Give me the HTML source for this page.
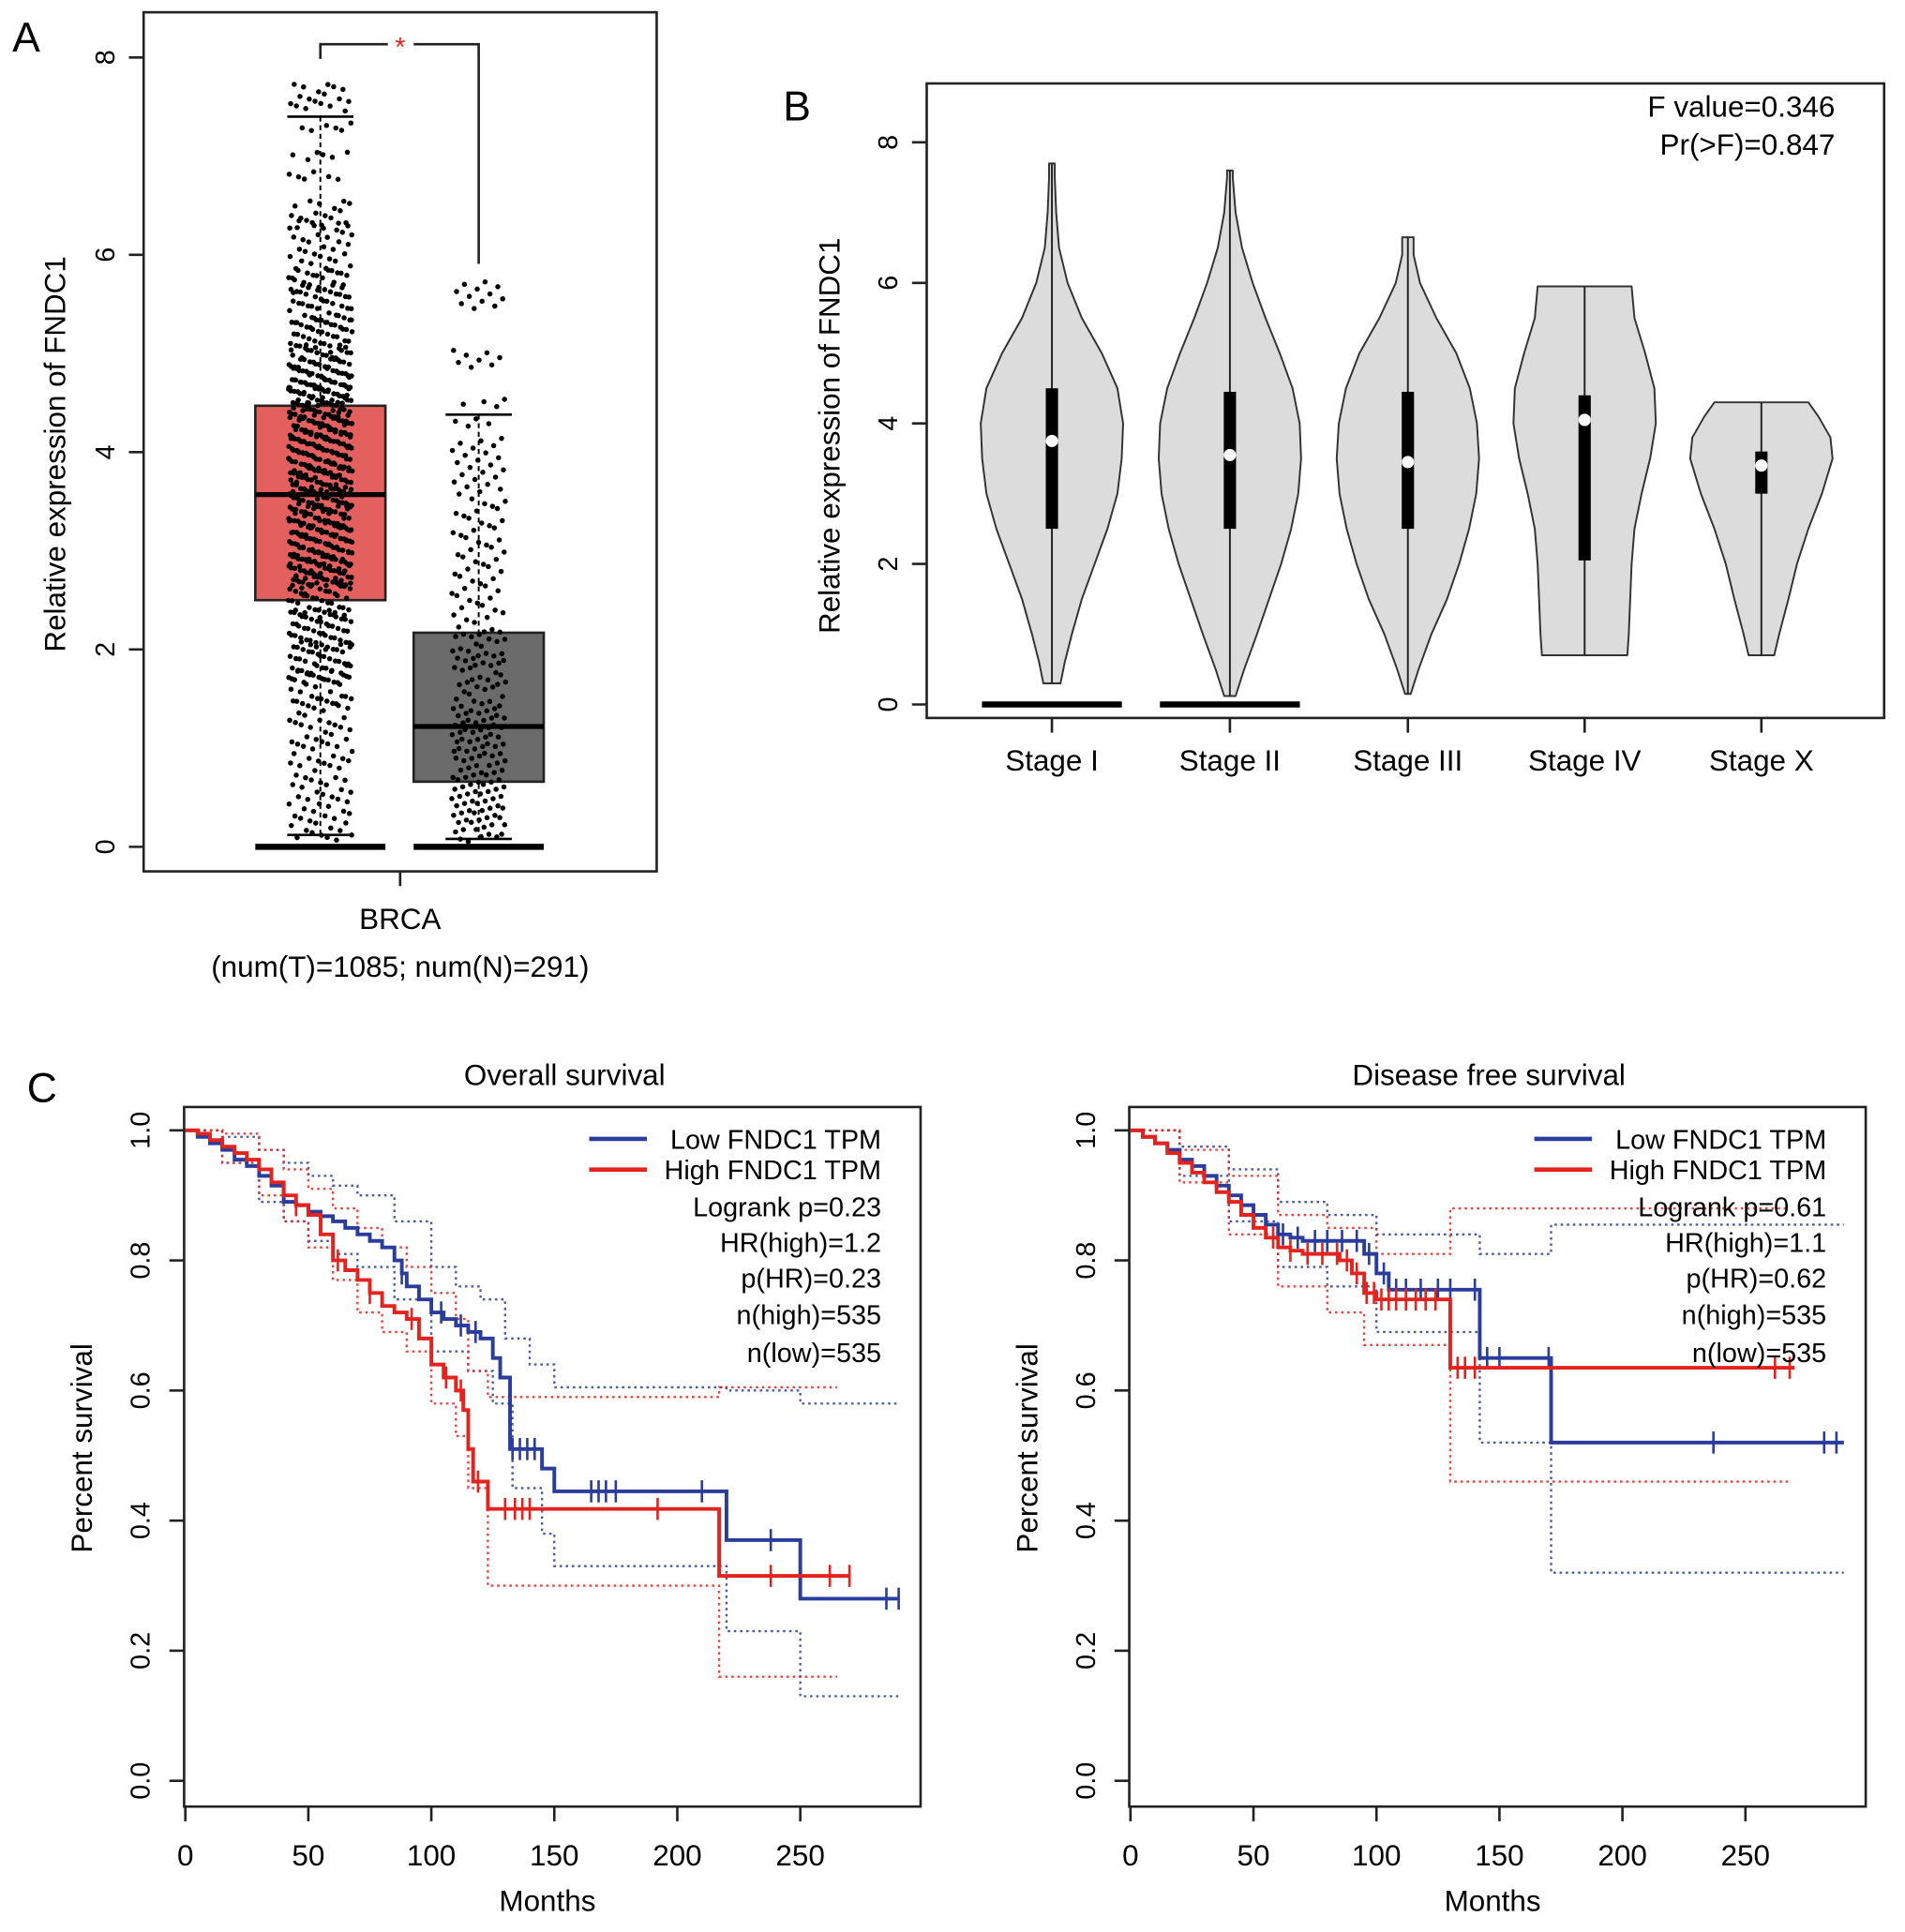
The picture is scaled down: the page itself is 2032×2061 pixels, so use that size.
<!DOCTYPE html>
<html><head><meta charset="utf-8">
<style>
html,body{margin:0;padding:0;background:#fff;}
svg{display:block;font-family:"Liberation Sans",sans-serif;}
</style></head>
<body>
<svg id="fig" width="2032" height="2061" viewBox="0 0 1552 1574.2" preserveAspectRatio="none" xmlns="http://www.w3.org/2000/svg">
<g id="pA"></g>
<g id="pB"></g>
<g id="pC1"></g>
<g id="pC2"></g>
</svg>
<script>
// ---------- Panel A data ----------
const aGroups = ['Tumor','Normal'];
const aQ1 = [2.5, 0.66];
const aMed = [3.57, 1.22];
const aQ3 = [4.47, 2.17];
const aWhiskLo = [0.12, 0.08];
const aWhiskHi = [7.4, 4.38];
const aYTicks = [0,2,4,6,8];
const tumorVals = [7.7,7.6,7.5,7.3,7.0,6.8,6.5,6.4,6.3,6.2,6.1,6.0,5.9,5.8,5.8,5.7,5.6,5.6,5.5,5.5,5.4,5.3,5.3,5.2,5.2,5.1,5.1,5.0,5.0,4.9,4.9,4.9,4.8,4.8,4.8,4.7,4.7,4.7,4.6,4.6,4.6,4.5,4.5,4.5,4.4,4.4,4.4,4.3,4.3,4.3,4.2,4.2,4.2,4.1,4.1,4.1,4.0,4.0,4.0,3.9,3.9,3.9,3.8,3.8,3.8,3.7,3.7,3.7,3.6,3.6,3.6,3.5,3.5,3.5,3.4,3.4,3.4,3.3,3.3,3.3,3.2,3.2,3.2,3.1,3.1,3.1,3.0,3.0,3.0,2.9,2.9,2.9,2.8,2.8,2.8,2.7,2.7,2.7,2.6,2.6,2.5,2.5,2.4,2.4,2.3,2.3,2.2,2.2,2.1,2.1,2.0,2.0,1.9,1.9,1.8,1.8,1.7,1.7,1.6,1.5,1.5,1.4,1.3,1.2,1.1,1.0,0.9,0.8,0.7,0.6,0.5,0.4,0.3,0.2,0.1,4.45,4.35,4.25,4.15,4.05,3.95,3.85,3.75,3.65,3.55,3.45,3.35,3.25,3.15,3.05,2.95,2.85,2.75,2.65,4.55,4.65,4.75,5.05,5.35,5.65,6.3,2.35,2.05,1.75];
const normalVals = [5.7,5.6,5.5,5.0,4.9,4.5,4.3,4.1,4.0,3.9,3.8,3.7,3.6,3.5,3.4,3.3,3.2,3.1,3.0,2.9,2.8,2.7,2.6,2.5,2.4,2.3,2.2,2.15,2.1,2.0,1.95,1.9,1.85,1.8,1.7,1.65,1.6,1.5,1.45,1.4,1.35,1.3,1.25,1.2,1.15,1.1,1.05,1.0,0.95,0.9,0.85,0.8,0.75,0.7,0.65,0.6,0.55,0.5,0.45,0.4,0.35,0.3,0.25,0.2,0.15,0.1];

// ---------- Panel B data ----------
const stages = ['Stage I','Stage II','Stage III','Stage IV','Stage X'];
const bQ1 = [2.5,2.5,2.5,2.05,3.0];
const bQ3 = [4.5,4.45,4.45,4.4,3.6];
const bMed = [3.75,3.55,3.45,4.05,3.4];
const bMin = [0.3,0.12,0.15,0.7,0.7];
const bMax = [7.7,7.6,6.65,5.95,4.3];
const vVals1 = [0.3,0.6,1,1.5,2,2.5,3,3.5,4,4.5,5,5.5,6,6.5,7,7.5,7.7];
const vDens1 = [0.12,0.18,0.28,0.42,0.6,0.78,0.92,0.98,1.0,0.92,0.7,0.42,0.22,0.1,0.06,0.04,0.04];
const vVals2 = [0.12,0.5,1,1.5,2,2.5,3,3.5,4,4.5,5,5.5,6,6.5,7,7.5,7.6];
const vDens2 = [0.08,0.2,0.38,0.55,0.72,0.86,0.96,1.0,0.98,0.88,0.7,0.5,0.32,0.17,0.08,0.04,0.04];
const vVals3 = [0.15,0.5,1,1.5,2,2.5,3,3.5,4,4.5,5,5.5,6,6.4,6.65];
const vDens3 = [0.04,0.15,0.33,0.55,0.72,0.86,0.96,1.0,0.97,0.87,0.68,0.4,0.17,0.08,0.08];
const vVals4 = [0.7,1,1.5,2,2.5,3,3.5,4,4.5,5,5.5,5.95];
const vDens4 = [0.6,0.62,0.64,0.66,0.7,0.8,0.92,1.0,0.98,0.85,0.7,0.66];
const vVals5 = [0.7,1,1.5,2,2.5,3,3.5,3.8,4.1,4.3];
const vDens5 = [0.18,0.25,0.38,0.5,0.66,0.85,1.0,0.97,0.8,0.66];
const bYTicks = [0,2,4,6,8];

// ---------- Panel C data ----------
const osLowT = [0,5,10,15,20,25,30,35,40,45,50,55,60,65,70,75,80,85,88,90,95,100,105,110,115,120,125,128,132,145,150,220,250];
const osLowS = [1,0.99,0.98,0.97,0.955,0.945,0.93,0.915,0.89,0.885,0.875,0.868,0.86,0.85,0.84,0.83,0.82,0.80,0.78,0.76,0.74,0.72,0.71,0.70,0.69,0.68,0.65,0.62,0.51,0.48,0.445,0.37,0.28];
const osLowEnd = 290;
const osHighT = [0,5,10,15,20,25,30,35,40,45,50,55,60,65,70,75,80,85,90,95,100,105,110,113,115,117,123,217];
const osHighS = [1,0.995,0.985,0.975,0.965,0.955,0.94,0.92,0.90,0.885,0.87,0.84,0.80,0.785,0.77,0.75,0.73,0.72,0.71,0.68,0.64,0.62,0.60,0.57,0.51,0.46,0.418,0.315];
const osHighEnd = 270;
const osLowCensor = [88,104,112,118,133,136,139,142,165,168,171,175,210,238,285,290];
const osHighCensor = [45,62,75,92,106,112,119,130,134,137,140,192,238,262,270];
const osLowUpT = [0,15,30,40,50,60,70,85,100,110,120,130,140,150,220,250];
const osLowUpS = [1,0.99,0.97,0.95,0.93,0.915,0.90,0.86,0.79,0.76,0.74,0.68,0.64,0.605,0.60,0.58];
const osLowLoT = [0,15,30,40,50,60,70,85,100,115,125,133,145,150,220,250];
const osLowLoS = [1,0.95,0.89,0.86,0.83,0.81,0.79,0.74,0.66,0.63,0.58,0.45,0.38,0.33,0.23,0.13];
const osHighUpT = [0,15,30,40,50,60,70,80,90,100,110,115,123,217];
const osHighUpS = [1,0.995,0.97,0.94,0.91,0.88,0.85,0.82,0.79,0.75,0.71,0.63,0.59,0.605];
const osHighLoT = [0,15,30,40,50,60,70,80,90,100,110,115,123,217];
const osHighLoS = [1,0.95,0.90,0.86,0.82,0.77,0.72,0.69,0.66,0.58,0.53,0.45,0.30,0.16];

const dfLowT = [0,5,10,15,20,25,30,35,40,45,50,55,60,65,70,90,95,100,105,142,171];
const dfLowS = [1,0.99,0.98,0.97,0.955,0.945,0.93,0.915,0.90,0.885,0.87,0.855,0.84,0.835,0.83,0.83,0.81,0.78,0.755,0.65,0.52];
const dfLowEnd = 290;
const dfHighT = [0,5,10,15,20,25,30,35,40,45,50,55,60,65,70,85,90,95,100,130];
const dfHighS = [1,0.99,0.98,0.965,0.95,0.935,0.92,0.905,0.89,0.87,0.85,0.835,0.82,0.815,0.81,0.80,0.78,0.75,0.74,0.635];
const dfHighEnd = 270;
const dfLowCensor = [62,68,75,80,86,92,97,103,108,112,118,125,130,140,145,150,170,237,282,287];
const dfHighCensor = [58,65,72,78,84,88,92,96,99,102,105,108,112,116,120,124,133,136,140,262,268];
const dfLowUpT = [0,20,40,60,80,100,142,171];
const dfLowUpS = [1,0.975,0.94,0.89,0.87,0.84,0.81,0.855];
const dfLowLoT = [0,20,40,60,80,100,142,171];
const dfLowLoS = [1,0.93,0.86,0.79,0.76,0.69,0.52,0.32];
const dfHighUpT = [0,20,40,60,80,100,130];
const dfHighUpS = [1,0.97,0.93,0.87,0.85,0.81,0.88];
const dfHighLoT = [0,20,40,60,80,95,130];
const dfHighLoS = [1,0.92,0.84,0.76,0.72,0.67,0.46];
const kmXTicks = [0,50,100,150,200,250];
const kmYTicks = [0.0,0.2,0.4,0.6,0.8,1.0];
const osStats = ['Logrank p=0.23','HR(high)=1.2','p(HR)=0.23','n(high)=535','n(low)=535'];
const dfStats = ['Logrank p=0.61','HR(high)=1.1','p(HR)=0.62','n(high)=535','n(low)=535'];

const NS='http://www.w3.org/2000/svg';
function mk(parent, tag, attrs, text){
  const e=document.createElementNS(NS,tag);
  for(const k in attrs) e.setAttribute(k,attrs[k]);
  if(text!==undefined) e.textContent=text;
  parent.appendChild(e); return e;
}
const BLUE='#2a3d9c', RED='#e5231e';
function frac(v){ return v-Math.floor(v); }

// ===== Panel A =====
(function(){
  const g=document.getElementById('pA');
  const y=v=>690-v*80.4;
  const cx=[261,390];
  let e=mk(g,'text',{x:10,y:42,'font-size':34},'A');
   
  e=mk(g,'rect',{x:117,y:10,width:418,height:700,fill:'none',stroke:'#222','stroke-width':2});
   
  aYTicks.forEach(t=>{
    let l=mk(g,'line',{x1:105,x2:117,y1:y(t),y2:y(t),stroke:'#222','stroke-width':2});
     
    let tx=mk(g,'text',{x:0,y:0,'font-size':22,'text-anchor':'middle',transform:`translate(93,${y(t)}) rotate(-90)`},String(t));
     
  });
  e=mk(g,'text',{x:0,y:0,'font-size':24,'text-anchor':'middle',transform:'translate(53,370) rotate(-90)'},'Relative expression of FNDC1');
   
  const fills=['#e4605e','#6b6b6b'];
  aGroups.forEach((gname,i)=>{
    const c=cx[i];
    let z=mk(g,'line',{x1:c-53,x2:c+53,y1:y(0),y2:y(0),stroke:'#000','stroke-width':5});
     
    let w=mk(g,'line',{x1:c,x2:c,y1:y(aWhiskHi[i]),y2:y(aWhiskLo[i]),stroke:'#000','stroke-width':1.5,'stroke-dasharray':'4 3'});
     
    [aWhiskHi[i],aWhiskLo[i]].forEach(v=>{
      let cp=mk(g,'line',{x1:c-27,x2:c+27,y1:y(v),y2:y(v),stroke:'#000','stroke-width':2});
       
    });
    let b=mk(g,'rect',{x:c-53,y:y(aQ3[i]),width:106,height:y(aQ1[i])-y(aQ3[i]),fill:fills[i],stroke:'#222','stroke-width':2});
     
  });
  const copies=[6,4], spread=[26,22];
  [tumorVals,normalVals].forEach((arr,i)=>{
    for(let c=0;c<copies[i];c++){
      arr.forEach((v,k)=>{
        const n=k*copies[i]+c+1;
        const jx=(frac(n*0.6180339887)*2-1)*spread[i];
        const jy=(frac(n*0.7548776662)-0.5)*0.1;
        let p=mk(g,'circle',{cx:cx[i]+jx,cy:y(v+jy),r:2.1,fill:'#000'});
         
      });
    }
  });
  aGroups.forEach((gname,i)=>{
    const c=cx[i];
    let m=mk(g,'line',{x1:c-53,x2:c+53,y1:y(aMed[i]),y2:y(aMed[i]),stroke:'#000','stroke-width':4});
     
  });
  e=mk(g,'path',{d:'M261,48 V36 H316 M337,36 H390 V215',fill:'none',stroke:'#222','stroke-width':2});
   
  e=mk(g,'text',{x:326,y:46,'font-size':22,fill:'#e5231e','text-anchor':'middle'},'*');
   
  e=mk(g,'line',{x1:326,x2:326,y1:710,y2:722,stroke:'#222','stroke-width':2});
   
  e=mk(g,'text',{x:326,y:757,'font-size':24,'text-anchor':'middle'},'BRCA');
   
  e=mk(g,'text',{x:326,y:796,'font-size':24,'text-anchor':'middle'},'(num(T)=1085; num(N)=291)');
   
})();

// ===== Panel B =====
(function(){
  const g=document.getElementById('pB');
  const y=v=>574-v*57.25;
  const cx=[857,1002,1147,1291,1435];
  const vv=[vVals1,vVals2,vVals3,vVals4,vVals5], dd=[vDens1,vDens2,vDens3,vDens4,vDens5];
  let e=mk(g,'text',{x:638,y:98,'font-size':34},'B');
   
  e=mk(g,'rect',{x:755,y:68,width:780,height:517,fill:'none',stroke:'#222','stroke-width':2});
   
  bYTicks.forEach(t=>{
    let l=mk(g,'line',{x1:743,x2:755,y1:y(t),y2:y(t),stroke:'#222','stroke-width':2});
     
    let tx=mk(g,'text',{x:0,y:0,'font-size':22,'text-anchor':'middle',transform:`translate(731,${y(t)}) rotate(-90)`},String(t));
     
  });
  e=mk(g,'text',{x:0,y:0,'font-size':24,'text-anchor':'middle',transform:'translate(684,355) rotate(-90)'},'Relative expression of FNDC1');
   
  e=mk(g,'text',{x:1495,y:95,'font-size':24,'text-anchor':'end'},'F value=0.346');
   
  e=mk(g,'text',{x:1495,y:126,'font-size':24,'text-anchor':'end'},'Pr(>F)=0.847');
   
  [0,1].forEach(i=>{
    let z=mk(g,'line',{x1:cx[i]-57,x2:cx[i]+57,y1:y(0),y2:y(0),stroke:'#000','stroke-width':5});
     
  });
  stages.forEach((s,i)=>{
    const c=cx[i], V=vv[i], D=dd[i];
    let d='M'+(c+D[0]*58)+','+y(V[0]);
    for(let k=1;k<V.length;k++) d+=' L'+(c+D[k]*58)+','+y(V[k]);
    for(let k=V.length-1;k>=0;k--) d+=' L'+(c-D[k]*58)+','+y(V[k]);
    d+='Z';
    let p=mk(g,'path',{d:d,fill:'#dcdcdc',stroke:'#333','stroke-width':1.5,'stroke-linejoin':'round'});
     
    let w=mk(g,'line',{x1:c,x2:c,y1:y(bMax[i]),y2:y(bMin[i]),stroke:'#222','stroke-width':1.5});
     
    let b=mk(g,'rect',{x:c-5,y:y(bQ3[i]),width:10,height:y(bQ1[i])-y(bQ3[i]),fill:'#000'});
     
    let m=mk(g,'circle',{cx:c,cy:y(bMed[i]),r:5,fill:'#fff'});
     
    let t=mk(g,'line',{x1:c,x2:c,y1:585,y2:597,stroke:'#222','stroke-width':2});
     
    let tx=mk(g,'text',{x:c,y:628,'font-size':24,'text-anchor':'middle'},s);
     
  });
})();

// ===== Panel C =====
function km(gid, x0, title, titleX, low, high, lowEnd, highEnd, lowC, highC, ciList, stats, showC){
  const g=document.getElementById(gid);
  const x=t=>x0+1+t*2.004;
  const y=s=>1451-s*530;
  const fx=x0, fw=600;
  let e;
  if(showC){ e=mk(g,'text',{x:22,y:898,'font-size':34},'C');   }
  e=mk(g,'text',{x:titleX,y:884,'font-size':24,'text-anchor':'middle'},title);
   
  e=mk(g,'rect',{x:fx,y:902,width:fw,height:570,fill:'none',stroke:'#222','stroke-width':2});
   
  kmXTicks.forEach(t=>{
    let l=mk(g,'line',{x1:x(t),x2:x(t),y1:1472,y2:1484,stroke:'#222','stroke-width':2});
     
    let tx=mk(g,'text',{x:x(t),y:1520,'font-size':24,'text-anchor':'middle'},String(t));
     
  });
  kmYTicks.forEach(t=>{
    let l=mk(g,'line',{x1:fx-12,x2:fx,y1:y(t),y2:y(t),stroke:'#222','stroke-width':2});
     
    let tx=mk(g,'text',{x:0,y:0,'font-size':22,'text-anchor':'middle',transform:`translate(${fx-28},${y(t)}) rotate(-90)`},t.toFixed(1));
     
  });
  e=mk(g,'text',{x:0,y:0,'font-size':24,'text-anchor':'middle',transform:`translate(${fx-75},1180) rotate(-90)`},'Percent survival');
   
  e=mk(g,'text',{x:fx+296,y:1557,'font-size':24,'text-anchor':'middle'},'Months');
   
  function stepPath(T,S,end){
    let d='M'+x(T[0])+','+y(S[0]);
    for(let i=1;i<T.length;i++) d+=' H'+x(T[i])+' V'+y(S[i]);
    return d+' H'+x(end);
  }
  function survAt(T,S,t){ let s=S[0]; for(let i=0;i<T.length;i++) if(T[i]<=t) s=S[i]; return s; }
  ciList.forEach(ci=>{
    let p=mk(g,'path',{d:stepPath(ci[0],ci[1],ci[2]),fill:'none',stroke:ci[3],'stroke-width':1.8,'stroke-dasharray':'2 3','stroke-opacity':0.85});
     
  });
  [[low,lowEnd,lowC,BLUE,'low'],[high,highEnd,highC,RED,'high']].forEach(c=>{
    let p=mk(g,'path',{d:stepPath(c[0][0],c[0][1],c[1]),fill:'none',stroke:c[3],'stroke-width':3});
     
    c[2].forEach(t=>{
      const s=survAt(c[0][0],c[0][1],t);
      let l=mk(g,'line',{x1:x(t),x2:x(t),y1:y(s)-9,y2:y(s)+9,stroke:c[3],'stroke-width':2});
       
    });
  });
  const lx=fx+330, tx=fx+568;
  [[BLUE,'Low FNDC1 TPM',928],[RED,'High FNDC1 TPM',953]].forEach(L=>{
    let l=mk(g,'line',{x1:lx,x2:lx+47,y1:L[2],y2:L[2],stroke:L[0],'stroke-width':3.5});
     
    let t=mk(g,'text',{x:tx,y:L[2]+8,'font-size':22,'text-anchor':'end'},L[1]);
     
  });
  const ys=[983,1012,1041,1071,1102];
  stats.forEach((s,i)=>{
    let t=mk(g,'text',{x:tx,y:ys[i]+8,'font-size':22,'text-anchor':'end'},s);
     
  });
}
km('pC1',150,'Overall survival',460,[osLowT,osLowS],[osHighT,osHighS],osLowEnd,osHighEnd,osLowCensor,osHighCensor,
  [[osLowUpT,osLowUpS,290,BLUE],[osLowLoT,osLowLoS,290,BLUE],[osHighUpT,osHighUpS,265,RED],[osHighLoT,osHighLoS,265,RED]],osStats,true);
km('pC2',920,'Disease free survival',1213,[dfLowT,dfLowS],[dfHighT,dfHighS],dfLowEnd,dfHighEnd,dfLowCensor,dfHighCensor,
  [[dfLowUpT,dfLowUpS,290,BLUE],[dfLowLoT,dfLowLoS,290,BLUE],[dfHighUpT,dfHighUpS,268,RED],[dfHighLoT,dfHighLoS,268,RED]],dfStats,false);
</script>
</body></html>
